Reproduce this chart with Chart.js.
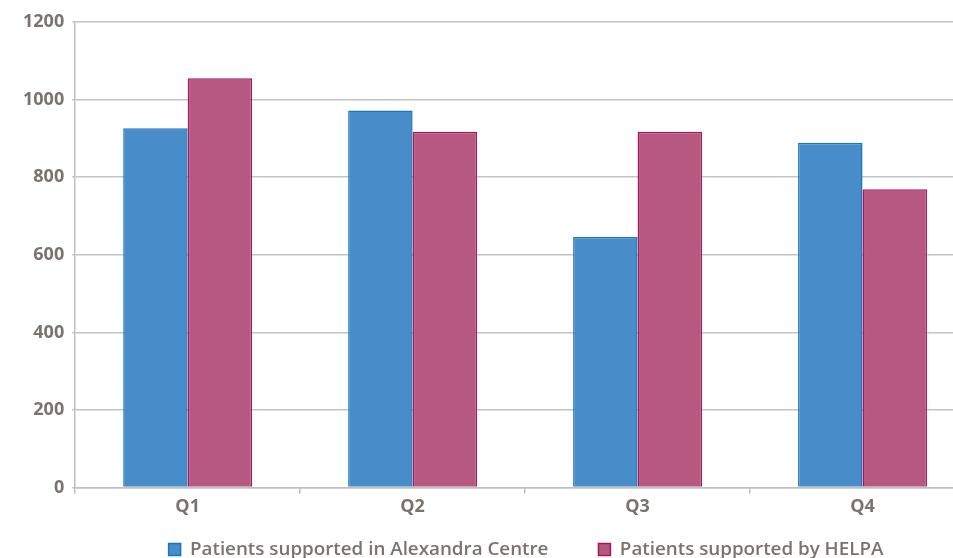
<!DOCTYPE html>
<html><head><meta charset="utf-8">
<script src="https://cdn.jsdelivr.net/npm/chart.js@4/dist/chart.umd.min.js"></script>
<style>
html,body{margin:0;padding:0;background:#fff;overflow:hidden;width:953px;height:558px;}
#wrap{position:absolute;left:0;top:0;width:1050px;height:569px;}
</style></head><body>
<div id="wrap"><canvas id="c" width="1050" height="569"></canvas></div>
<script>
const categories = ["Q1","Q2","Q3","Q4"];
const alexandra = [926, 972, 646, 889];
const helpa = [1055, 917, 917, 769];
const seriesNames = ["Patients supported in Alexandra Centre","Patients supported by HELPA"];
const yTicks = [0,200,400,600,800,1000,1200];
const txt = '#7a7370';
const shiftLegend = {
  id:'shiftLegend',
  afterLayout(chart){
    chart.legend.left += 31; chart.legend.right += 31;
    chart.scales.x.bottom += 50;
  }
};
new Chart(document.getElementById('c'), {
  type:'bar',
  data:{labels:categories, datasets:[
    {label:seriesNames[0], data:alexandra, backgroundColor:'#488dc9', borderColor:'#1a75bb', borderWidth:1.5},
    {label:seriesNames[1], data:helpa, backgroundColor:'#b6587f', borderColor:'#a5165f', borderWidth:1.5}
  ]},
  plugins:[shiftLegend],
  options:{
    responsive:false, animation:false,
    layout:{padding:{left:15,right:75,top:22,bottom:0}},
    datasets:{bar:{categoryPercentage:0.573, barPercentage:1}},
    plugins:{
      tooltip:{enabled:false},
      legend:{position:'bottom', labels:{color:txt, font:{family:'Open Sans', size:18.8, weight:'600'}, boxWidth:12, boxHeight:12, padding:50}}
    },
    scales:{
      x:{grid:{display:true, drawOnChartArea:false, color:'#bfbfbf', tickLength:6, lineWidth:1.5}, border:{color:'#bfbfbf', width:1.5},
         ticks:{color:txt, font:{family:'Open Sans', size:18, weight:'bold'}, padding:2},
         afterFit:(s)=>{s.height -= 29;}},
      y:{min:0, max:1200, afterBuildTicks:(ax)=>{ax.ticks=yTicks.map(v=>({value:v}));},
         grid:{color:'#c4c4c4', lineWidth:1.5, tickLength:3}, border:{color:'#bfbfbf', width:1.5},
         ticks:{color:txt, font:{family:'Open Sans', size:18, weight:'bold'}, padding:8, callback:(v)=>String(v)}}
    }
  }
});
</script></body></html>
